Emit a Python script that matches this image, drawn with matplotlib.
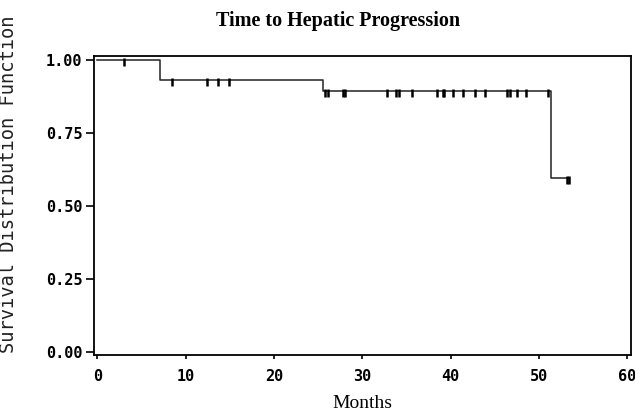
import numpy as np
import matplotlib
matplotlib.use("Agg")
import matplotlib.pyplot as plt
from matplotlib.path import Path

# Data
step_times = [0.0, 7.1, 25.6, 51.4]
survival = [1.0, 0.9333, 0.8944, 0.5963]
end_time = 53.3
censor_times = [3.0, 8.4, 12.4, 13.6, 14.9, 25.8, 26.1, 27.8, 28.1, 32.8,
                33.8, 34.2, 35.6, 38.5, 39.2, 39.3, 40.3, 41.4, 42.8, 43.9,
                46.4, 46.7, 47.5, 48.6, 51.0, 53.2, 53.4]
x_ticks = [0, 10, 20, 30, 40, 50, 60]
y_ticks = [0.0, 0.25, 0.5, 0.75, 1.0]
y_tick_labels = ["0.00", "0.25", "0.50", "0.75", "1.00"]
title = "Time to Hepatic Progression"
x_label = "Months"
y_label = "Survival Distribution Function"

W, H = 635, 413
fig = plt.figure(figsize=(W / 100, H / 100), dpi=100)
ax = fig.add_axes([93.5 / W, 1 - 355 / H, (631 - 93.5) / W, (355 - 56) / H])

xs = list(step_times) + [end_time]
ys = list(survival) + [survival[-1]]
ax.step(xs, ys, where="post", color="#222222", lw=1.1)

idx = np.searchsorted(step_times, censor_times, side="right") - 1
cy = np.array(survival)[idx]
mk = Path([(0, 0.25), (0, -1.0)], [Path.MOVETO, Path.LINETO])
ax.plot(censor_times, cy, linestyle="none", marker=mk, markersize=9,
        markeredgewidth=1.8, color="black")

ax.set_xlim(-0.45, 60.45)
ax.set_ylim(-0.012, 1.015)
ax.set_xticks(x_ticks)
ax.set_yticks(y_ticks)
ax.set_yticklabels(y_tick_labels)
for lab in ax.get_xticklabels() + ax.get_yticklabels():
    lab.set_fontfamily("DejaVu Sans Mono")
    lab.set_fontweight("bold")
    lab.set_fontsize(11)
ax.tick_params(axis="y", direction="out", length=6, width=1.2, pad=2, colors="black")
ax.tick_params(axis="x", direction="out", length=3, width=1.2, pad=7, colors="black")
for s in ax.spines.values():
    s.set_linewidth(1.3)
    s.set_color("black")

fig.text(338 / W, 1 - 21 / H, title, ha="center", va="center",
         family="Liberation Serif", weight="bold", size=14.5)
fig.text(362 / W, 1 - 403 / H, x_label, ha="center", va="center",
         family="Liberation Serif", size=14)
fig.text(9 / W, 1 - 184 / H, y_label, ha="center", va="center", rotation=90,
         family="DejaVu Sans Mono", size=13.5, color="#222222")

fig.savefig("out.png", dpi=100)
